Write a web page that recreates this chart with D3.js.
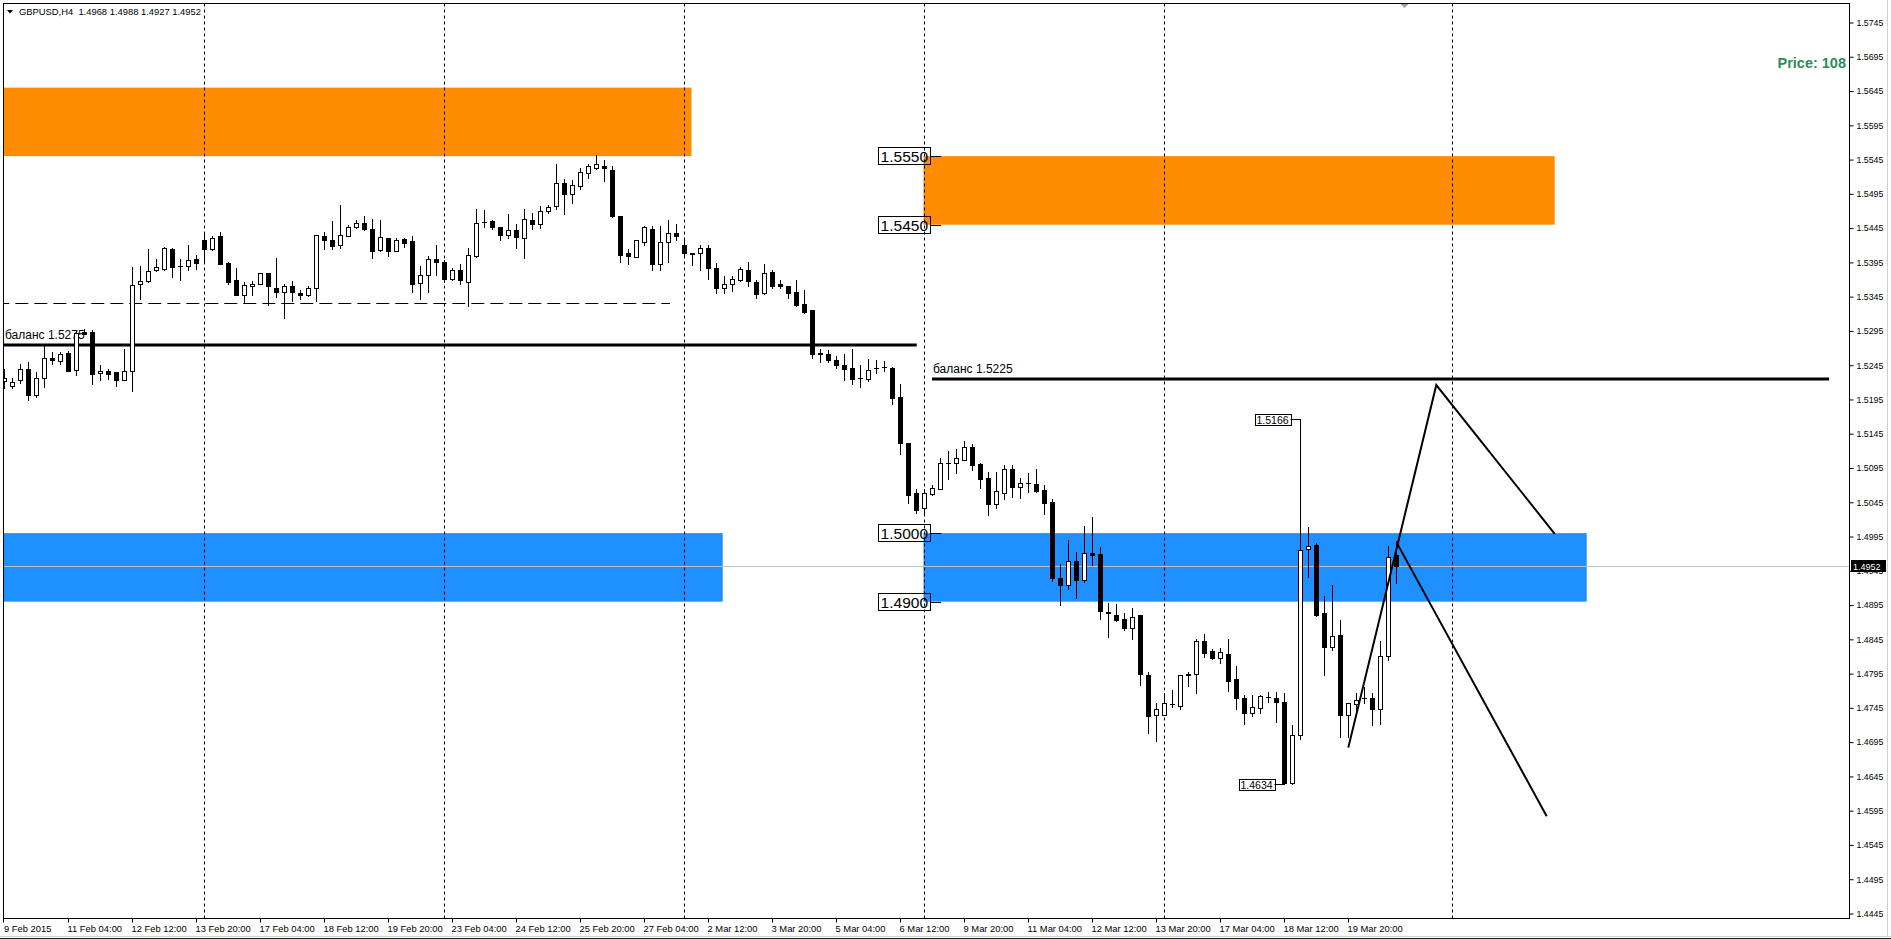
<!DOCTYPE html>
<html><head><meta charset="utf-8">
<script src="https://cdn.jsdelivr.net/npm/d3@7"></script>
<style>
html,body{margin:0;padding:0;background:#fff;overflow:hidden}
svg{display:block}
text{font-family:"Liberation Sans",Arial,sans-serif}
</style></head><body>
<svg id="c" width="1891" height="939"></svg>
<script>
// ---------- DATA ----------
const opens=[1.5222,1.5215,1.5223,1.5240,1.5202,1.5226,1.5256,1.5251,1.5263,1.5238,
1.5294,1.5294,1.5233,1.5237,1.5235,1.5223,1.5236,1.5364,1.5368,1.5384,
1.5385,1.5415,1.5390,1.5390,1.5400,1.5427,1.5415,1.5433,1.5394,1.5370,
1.5348,1.5361,1.5364,1.5380,1.5358,1.5352,1.5361,1.5350,1.5348,1.5357,
1.5434,1.5428,1.5420,1.5433,1.5446,1.5452,1.5444,1.5413,1.5431,1.5412,
1.5429,1.5426,1.5365,1.5377,1.5400,1.5395,1.5371,1.5384,1.5366,1.5405,
1.5454,1.5456,1.5447,1.5435,1.5442,1.5431,1.5457,1.5451,1.5470,1.5477,
1.5511,1.5495,1.5506,1.5526,1.5533,1.5536,1.5530,1.5462,1.5408,1.5403,
1.5425,1.5444,1.5393,1.5425,1.5438,1.5421,1.5409,1.5409,1.5416,1.5387,
1.5357,1.5363,1.5370,1.5384,1.5367,1.5351,1.5381,1.5363,1.5361,1.5352,
1.5334,1.5325,1.5263,1.5262,1.5253,1.5245,1.5241,1.5226,1.5225,1.5241,
1.5242,1.5241,1.5199,1.5131,1.5058,1.5036,1.5057,1.5065,1.5102,1.5102,
1.5106,1.5126,1.5101,1.5080,1.5042,1.5059,1.5094,1.5068,1.5073,1.5072,
1.5063,1.5045,1.4935,1.4925,1.4960,1.4931,1.4971,1.4970,1.4885,1.4880,
1.4874,1.4861,1.4880,1.4793,1.4735,1.4735,1.4751,1.4748,1.4793,1.4795,
1.4843,1.4828,1.4818,1.4824,1.4787,1.4759,1.4738,1.4745,1.4761,1.4759,
1.4753,1.4636,1.4706,1.4977,1.4982,1.4883,1.4834,1.4851,1.4735,1.4751,
1.4760,1.4759,1.4743,1.4820,1.4968];
const highs=[1.5240,1.5226,1.5247,1.5249,1.5235,1.5274,1.5264,1.5264,1.5266,1.5296,
1.5298,1.5297,1.5245,1.5239,1.5235,1.5269,1.5388,1.5390,1.5415,1.5400,
1.5418,1.5416,1.5400,1.5420,1.5406,1.5439,1.5433,1.5439,1.5395,1.5387,
1.5366,1.5368,1.5380,1.5380,1.5401,1.5364,1.5368,1.5355,1.5361,1.5435,
1.5439,1.5455,1.5479,1.5449,1.5457,1.5462,1.5458,1.5457,1.5431,1.5431,
1.5431,1.5433,1.5389,1.5404,1.5420,1.5398,1.5387,1.5393,1.5416,1.5473,
1.5471,1.5457,1.5447,1.5465,1.5451,1.5473,1.5467,1.5477,1.5478,1.5538,
1.5517,1.5515,1.5533,1.5538,1.5551,1.5545,1.5536,1.5462,1.5415,1.5428,
1.5448,1.5448,1.5448,1.5457,1.5451,1.5430,1.5409,1.5420,1.5420,1.5394,
1.5375,1.5375,1.5388,1.5396,1.5369,1.5393,1.5384,1.5369,1.5361,1.5369,
1.5355,1.5325,1.5268,1.5267,1.5258,1.5262,1.5269,1.5245,1.5254,1.5252,
1.5251,1.5243,1.5217,1.5131,1.5065,1.5065,1.5070,1.5109,1.5120,1.5122,
1.5135,1.5130,1.5103,1.5089,1.5089,1.5100,1.5100,1.5081,1.5087,1.5094,
1.5070,1.5050,1.4955,1.4990,1.4972,1.5011,1.5024,1.4980,1.4898,1.4896,
1.4883,1.4891,1.4880,1.4797,1.4752,1.4766,1.4771,1.4793,1.4798,1.4845,
1.4853,1.4831,1.4833,1.4845,1.4806,1.4764,1.4764,1.4764,1.4768,1.4768,
1.4766,1.4720,1.5166,1.5009,1.4985,1.4908,1.4924,1.4873,1.4752,1.4766,
1.4775,1.4766,1.4842,1.4981,1.4988];
const lows=[1.5211,1.5211,1.5219,1.5194,1.5198,1.5213,1.5247,1.5247,1.5236,1.5231,
1.5290,1.5218,1.5223,1.5225,1.5214,1.5223,1.5207,1.5342,1.5367,1.5383,
1.5384,1.5373,1.5369,1.5384,1.5385,1.5395,1.5413,1.5393,1.5363,1.5347,
1.5336,1.5347,1.5364,1.5333,1.5344,1.5314,1.5338,1.5341,1.5346,1.5339,
1.5414,1.5414,1.5416,1.5433,1.5445,1.5442,1.5402,1.5412,1.5404,1.5411,
1.5418,1.5352,1.5342,1.5352,1.5376,1.5366,1.5369,1.5364,1.5332,1.5403,
1.5447,1.5444,1.5428,1.5430,1.5416,1.5401,1.5444,1.5445,1.5467,1.5473,
1.5466,1.5481,1.5502,1.5518,1.5531,1.5514,1.5461,1.5395,1.5393,1.5403,
1.5421,1.5384,1.5384,1.5395,1.5427,1.5405,1.5391,1.5384,1.5371,1.5350,
1.5350,1.5353,1.5368,1.5360,1.5343,1.5349,1.5358,1.5357,1.5343,1.5332,
1.5321,1.5255,1.5250,1.5250,1.5241,1.5224,1.5218,1.5213,1.5222,1.5234,
1.5237,1.5189,1.5116,1.5044,1.5029,1.5029,1.5056,1.5064,1.5079,1.5088,
1.5106,1.5092,1.5066,1.5027,1.5036,1.5050,1.5053,1.5051,1.5060,1.5060,
1.5028,1.4930,1.4895,1.4918,1.4905,1.4928,1.4953,1.4874,1.4848,1.4872,
1.4858,1.4845,1.4778,1.4708,1.4696,1.4735,1.4747,1.4744,1.4777,1.4767,
1.4819,1.4817,1.4810,1.4769,1.4743,1.4722,1.4733,1.4737,1.4754,1.4725,
1.4634,1.4634,1.4699,1.4936,1.4879,1.4793,1.4829,1.4703,1.4703,1.4738,
1.4752,1.4720,1.4722,1.4815,1.4927];
const closes=[1.5226,1.5221,1.5240,1.5202,1.5226,1.5256,1.5253,1.5262,1.5237,1.5292,
1.5291,1.5232,1.5237,1.5232,1.5223,1.5237,1.5362,1.5368,1.5383,1.5388,
1.5416,1.5388,1.5390,1.5399,1.5394,1.5415,1.5430,1.5393,1.5367,1.5347,
1.5362,1.5364,1.5380,1.5360,1.5352,1.5361,1.5352,1.5347,1.5358,1.5435,
1.5428,1.5419,1.5435,1.5447,1.5453,1.5444,1.5412,1.5432,1.5411,1.5428,
1.5424,1.5364,1.5377,1.5400,1.5395,1.5371,1.5384,1.5369,1.5406,1.5453,
1.5454,1.5447,1.5435,1.5442,1.5432,1.5459,1.5451,1.5470,1.5476,1.5511,
1.5495,1.5508,1.5527,1.5535,1.5538,1.5532,1.5462,1.5406,1.5404,1.5427,
1.5446,1.5393,1.5425,1.5438,1.5434,1.5409,1.5407,1.5416,1.5387,1.5358,
1.5364,1.5371,1.5386,1.5368,1.5349,1.5379,1.5361,1.5361,1.5350,1.5333,
1.5322,1.5262,1.5262,1.5252,1.5245,1.5240,1.5225,1.5226,1.5238,1.5241,
1.5242,1.5197,1.5131,1.5055,1.5034,1.5058,1.5066,1.5102,1.5103,1.5109,
1.5126,1.5100,1.5079,1.5042,1.5061,1.5093,1.5068,1.5073,1.5073,1.5062,
1.5044,1.4935,1.4925,1.4960,1.4932,1.4971,1.4968,1.4886,1.4883,1.4873,
1.4861,1.4878,1.4794,1.4733,1.4743,1.4752,1.4751,1.4793,1.4794,1.4842,
1.4825,1.4818,1.4826,1.4784,1.4760,1.4738,1.4746,1.4762,1.4761,1.4754,
1.4635,1.4705,1.4976,1.4981,1.4880,1.4834,1.4850,1.4735,1.4752,1.4757,
1.4759,1.4744,1.4821,1.4965,1.4952];

const timeLabels=["9 Feb 2015","11 Feb 04:00","12 Feb 12:00","13 Feb 20:00","17 Feb 04:00","18 Feb 12:00",
"19 Feb 20:00","23 Feb 04:00","24 Feb 12:00","25 Feb 20:00","27 Feb 04:00","2 Mar 12:00","3 Mar 20:00",
"5 Mar 04:00","6 Mar 12:00","9 Mar 20:00","11 Mar 04:00","12 Mar 12:00","13 Mar 20:00","17 Mar 04:00",
"18 Mar 12:00","19 Mar 20:00"];
const priceTicks=["1.5745","1.5695","1.5645","1.5595","1.5545","1.5495","1.5445","1.5395","1.5345",
"1.5295","1.5245","1.5195","1.5145","1.5095","1.5045","1.4995","1.4945","1.4895","1.4845","1.4795",
"1.4745","1.4695","1.4645","1.4595","1.4545","1.4495","1.4445"];
const separatorBars=[25,55,85,115,145,181];
const zoneStarts=[-1,114.9,-1,114.9];
const zoneEnds=[85.9,193.8,89.8,197.8];
const zoneTops=[1.5650,1.5550,1.5000,1.5000];
const zoneBottoms=[1.5550,1.5450,1.4900,1.4900];
const zoneColors=["#FF8C00","#FF8C00","#1E90FF","#1E90FF"];
const balanceStarts=[-1,115.96];
const balanceEnds=[114.05,228.1];
const balancePrices=[1.5275,1.5225];
const balanceTexts=["баланс 1.5275","баланс 1.5225"];
const dashedLevel=[-1,83.2,1.5336];
const zigA=[[168.0,1.4687],[179.0,1.5216],[193.8,1.4999]];
const zigB=[[174.1,1.4985],[192.8,1.4587]];
const bigLabels=["1.5550","1.5450","1.5000","1.4900"];
const bigLabelBar=117.1;
const smallLabels=[["1.5166",162],["1.4634",160]];
const lastPrice=1.4952;
const header="GBPUSD,H4  1.4968 1.4988 1.4927 1.4952";

// ---------- LAYOUT ----------
const L=3.5,R=1849.5,T=3.5,B=918.5;
const svg=d3.select("#c");
const x=d3.scaleLinear().domain([0,200]).range([4.3,4.3+1600]);
const y=d3.scaleLinear().domain([1.4445,1.5745]).range([913.5,22.5]);
const px=v=>Math.round(v)+0.5;

svg.append("rect").attr("width",1891).attr("height",939).attr("fill","#fff");
svg.append("defs").append("clipPath").attr("id","clip").append("rect")
  .attr("x",L+0.5).attr("y",T+0.5).attr("width",R-L-1).attr("height",B-T-1);
const g=svg.append("g").attr("clip-path","url(#clip)");

// zones
g.selectAll("rect.zone").data(zoneStarts).join("rect").attr("class","zone")
  .attr("x",(d,i)=>x(d)).attr("width",(d,i)=>x(zoneEnds[i])-x(d))
  .attr("y",(d,i)=>y(zoneTops[i])).attr("height",(d,i)=>y(zoneBottoms[i])-y(zoneTops[i]))
  .attr("fill",(d,i)=>zoneColors[i]);

// current price line
g.append("line").attr("x1",L).attr("x2",R).attr("y1",px(y(lastPrice))).attr("y2",px(y(lastPrice)))
  .attr("stroke","#C0C0C0").attr("stroke-width",1);

// separators
g.selectAll("line.sep").data(separatorBars).join("line").attr("class","sep")
  .attr("x1",d=>Math.floor(x(d))+0.5).attr("x2",d=>Math.floor(x(d))+0.5)
  .attr("y1",T).attr("y2",B).attr("stroke","#000").attr("stroke-width",1)
  .attr("stroke-dasharray","3,3");

// dashed level
g.append("line").attr("x1",x(dashedLevel[0])).attr("x2",x(dashedLevel[1]))
  .attr("y1",px(y(dashedLevel[2]))).attr("y2",px(y(dashedLevel[2])))
  .attr("stroke","#000").attr("stroke-width",1).attr("stroke-dasharray","13,6");

// balance lines
g.selectAll("line.bal").data(balancePrices).join("line").attr("class","bal")
  .attr("x1",(d,i)=>x(balanceStarts[i])).attr("x2",(d,i)=>x(balanceEnds[i]))
  .attr("y1",d=>Math.round(y(d))).attr("y2",d=>Math.round(y(d)))
  .attr("stroke","#000").attr("stroke-width",3);
g.selectAll("text.bal").data(balanceTexts).join("text").attr("class","bal")
  .attr("x",(d,i)=>i===0?5:x(balanceStarts[i])+1)
  .attr("y",(d,i)=>Math.round(y(balancePrices[i]))-6)
  .attr("font-size",12).attr("fill","#000").text(d=>d);

// candles
const idx=d3.range(opens.length);
const cg=g.append("g");
idx.forEach(i=>{
  const cx=Math.floor(x(i));
  const o=opens[i],c=closes[i],h=highs[i],l=lows[i];
  cg.append("line").attr("x1",cx+0.5).attr("x2",cx+0.5)
    .attr("y1",Math.round(y(h))).attr("y2",Math.round(y(l))+1)
    .attr("stroke","#000").attr("stroke-width",1);
  const yt=Math.round(y(Math.max(o,c))), yb=Math.round(y(Math.min(o,c)));
  if(yb-yt<1){
    cg.append("line").attr("x1",cx-2).attr("x2",cx+3).attr("y1",yt+0.5).attr("y2",yt+0.5)
      .attr("stroke","#000").attr("stroke-width",1);
  } else {
    cg.append("rect").attr("x",cx-1.5).attr("y",yt+0.5).attr("width",4).attr("height",yb-yt)
      .attr("fill",c>=o?"#fff":"#000").attr("stroke","#000").attr("stroke-width",1);
  }
});

// zigzag lines
const ln=d3.line().x(d=>x(d[0])).y(d=>y(d[1]));
[zigA,zigB].forEach(p=>g.append("path").attr("d",ln(p)).attr("fill","none")
  .attr("stroke","#000").attr("stroke-width",2));

// big price labels (right price label style)
bigLabels.forEach(s=>{
  const ax=x(bigLabelBar), ay=Math.round(y(+s));
  g.append("text").attr("x",ax-60.5).attr("y",ay+6).attr("font-size",15.5).attr("fill","#000").text(s);
  g.append("rect").attr("x",Math.round(ax-62.7)+0.5).attr("y",ay-8.5).attr("width",52).attr("height",17)
    .attr("fill","none").attr("stroke","#000");
  g.append("line").attr("x1",ax-10.5).attr("x2",ax).attr("y1",ay+0.5).attr("y2",ay+0.5).attr("stroke","#000");
});
// small price labels
smallLabels.forEach(([s,k])=>{
  const ax=Math.floor(x(k))+0.5, ay=Math.round(y(+s));
  g.append("rect").attr("x",Math.round(ax-46)+0.5).attr("y",ay-4.5).attr("width",36).attr("height",11)
    .attr("fill","#fff").attr("stroke","#000");
  g.append("text").attr("x",ax-44).attr("y",ay+5).attr("font-size",10.5).attr("fill","#000").text(s);
  g.append("line").attr("x1",ax-10).attr("x2",ax).attr("y1",ay+0.5).attr("y2",ay+0.5).attr("stroke","#000");
});

// Price: 108
svg.append("text").attr("x",1846).attr("y",67.5).attr("text-anchor","end")
  .attr("font-size",14.5).attr("font-weight","bold").attr("fill","#2E8B57").text("Price: 108");

// header
svg.append("path").attr("d","M7,10 L13,10 L10,13.5 Z").attr("fill","#000");
svg.append("text").attr("x",19).attr("y",15).attr("font-size",9.4).attr("fill","#000")
  .style("white-space","pre").text(header);

// shift marker
svg.append("path").attr("d","M1400,3.5 L1409,3.5 L1404.5,8 Z").attr("fill","#a0a0a0");

// frame
svg.append("rect").attr("x",L).attr("y",T).attr("width",R-L).attr("height",B-T)
  .attr("fill","none").attr("stroke","#000").attr("stroke-width",1);

// y axis
const yAxis=d3.axisRight(y).tickValues(priceTicks.map(Number)).tickFormat((d,i)=>priceTicks[i])
  .tickSize(4).tickPadding(3);
const ya=svg.append("g").attr("transform",`translate(${R},0)`).call(yAxis);
ya.select(".domain").remove();
ya.selectAll("text").attr("font-size",8.8).attr("font-family","Liberation Sans, Arial, sans-serif").attr("fill","#000");
ya.selectAll("line").attr("stroke","#000");

// last price label (covers the 1.4945 tick label as in MT4)
const ly=Math.round(y(lastPrice));
svg.append("rect").attr("x",1851).attr("y",ly-6).attr("width",35).attr("height",12).attr("fill","#000");
svg.append("text").attr("x",1853).attr("y",ly+3.5).attr("font-size",9).attr("fill","#fff").text(lastPrice.toFixed(4));

// x axis
const xt=timeLabels.map((d,i)=>i===0?x.invert(3.5):8*i);
const xAxis=d3.axisBottom(x).tickValues(xt).tickFormat((d,i)=>timeLabels[i]).tickSize(4).tickPadding(3);
const xa=svg.append("g").attr("transform",`translate(0,${B})`).call(xAxis);
xa.select(".domain").remove();
xa.selectAll(".tick").attr("transform",d=>`translate(${Math.floor(x(d))+0.5},0)`);
xa.selectAll("text").attr("text-anchor","start").attr("x",(d,i)=>i===0?0.5:-1).attr("font-size",9.4)
  .attr("font-family","Liberation Sans, Arial, sans-serif").attr("fill","#000");
xa.selectAll("line").attr("stroke","#000");

// window edges
svg.append("line").attr("x1",0).attr("x2",1891).attr("y1",936.5).attr("y2",936.5).attr("stroke","#d0d0d0");
svg.append("line").attr("x1",0).attr("x2",1891).attr("y1",938.5).attr("y2",938.5).attr("stroke","#202020");
svg.append("line").attr("x1",1887.5).attr("x2",1887.5).attr("y1",0).attr("y2",937).attr("stroke","#d0d0d0");
</script>
</body></html>
